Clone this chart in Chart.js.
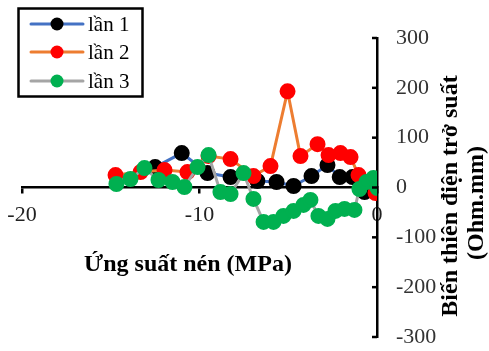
<!DOCTYPE html>
<html>
<head>
<meta charset="utf-8">
<script src="https://cdn.jsdelivr.net/npm/chart.js@4.4.1/dist/chart.umd.min.js"></script>
<style>
  body { margin: 0; background: #fff; }
  #wrap { width: 489px; height: 351px; }
</style>
</head>
<body>
<div id="wrap"><canvas id="myChart" width="489" height="351"></canvas></div>
<script>
// ---- data ----
const seriesNames = ['lần 1', 'lần 2', 'lần 3'];

const x1 = [-12.5, -11.0, -9.55, -8.25, -6.74, -5.66, -4.7, -3.69, -2.79, -2.1, -1.38, -0.7];
const y1 = [41, 69, 29, 21, 13, 11, 3, 23, 45, 21, 21, -9];

const x2 = [-14.73, -13.32, -11.97, -10.68, -9.49, -8.25, -6.96, -6.0, -5.04, -4.31, -3.35, -2.73, -2.06, -1.49, -1.04, -0.08];
const y2 = [25, 31, 35, 31, 63, 57, 23, 43, 193, 63, 87, 65, 69, 61, 25, -11];

const x3 = [-14.68, -13.89, -13.1, -12.31, -11.52, -10.85, -10.11, -9.49, -8.82, -8.25, -7.52, -6.96, -6.39, -5.83, -5.27, -4.7, -4.14, -3.75, -3.3, -2.79, -2.34, -1.83, -1.27, -0.99, -0.59, -0.2, 0.03];
const y3 = [7, 17, 39, 15, 11, 1, 41, 65, -9, -13, 29, -23, -69, -69, -57, -47, -35, -25, -57, -63, -47, -43, -45, -3, 11, 19, -1];

const xTicks = [-20, -10, 0];
const yTicks = [-300, -200, -100, 0, 100, 200, 300];

const xTitle = 'Ứng suất nén (MPa)';
const yTitle = ['Biến thiên điện trở suất', '(Ohm.mm)'];

const lineColors = ['#4472C4', '#ED7D31', '#A5A5A5'];
const dotColors = ['#000000', '#FF0000', '#00B050'];

const pts = (xs, ys) => xs.map((x, i) => ({ x: x, y: ys[i] }));
const allX = [x1, x2, x3];
const allY = [y1, y2, y3];

const FONT = '"Liberation Serif", "Times New Roman", serif';

// titles, inward y ticks and the boxed legend
const extras = {
  id: 'extras',
  afterDraw(chart) {
    const ctx = chart.ctx;
    const ys = chart.scales.y;
    ctx.save();
    ctx.strokeStyle = '#000';
    ctx.lineWidth = 2.5;
    yTicks.forEach(v => {
      const py = ys.getPixelForValue(v);
      ctx.beginPath();
      ctx.moveTo(ys.left - 5, py);
      ctx.lineTo(ys.left, py);
      ctx.stroke();
    });

    ctx.fillStyle = '#000';
    ctx.font = 'bold 24px ' + FONT;
    ctx.textAlign = 'center';
    ctx.textBaseline = 'middle';
    ctx.fillText(xTitle, 188, 265);

    ctx.save();
    ctx.translate(451, 196);
    ctx.rotate(-Math.PI / 2);
    ctx.fillText(yTitle[0], 0, 0);
    ctx.restore();
    ctx.save();
    ctx.translate(477, 203);
    ctx.rotate(-Math.PI / 2);
    ctx.fillText(yTitle[1], 0, 0);
    ctx.restore();

    // legend
    ctx.lineWidth = 2.5;
    ctx.strokeStyle = '#000';
    ctx.strokeRect(18.5, 8.5, 124, 88);
    const rows = [24, 52, 81];
    ctx.font = '21px ' + FONT;
    ctx.textAlign = 'left';
    seriesNames.forEach((name, i) => {
      const ry = rows[i];
      ctx.strokeStyle = lineColors[i];
      ctx.lineWidth = 3;
      ctx.lineCap = 'round';
      ctx.beginPath();
      ctx.moveTo(31, ry);
      ctx.lineTo(83, ry);
      ctx.stroke();
      ctx.fillStyle = dotColors[i];
      ctx.beginPath();
      ctx.arc(57, ry, 6.5, 0, Math.PI * 2);
      ctx.fill();
      ctx.fillStyle = '#000';
      ctx.fillText(name, 88, ry + 1);
    });
    ctx.restore();
  }
};

const ctx = document.getElementById('myChart');

new Chart(ctx, {
  type: 'scatter',
  data: {
    datasets: seriesNames.map((name, i) => ({
      label: name,
      data: pts(allX[i], allY[i]),
      showLine: true,
      borderColor: lineColors[i],
      borderWidth: 3,
      backgroundColor: dotColors[i],
      pointBackgroundColor: dotColors[i],
      pointBorderColor: dotColors[i],
      pointRadius: 6.5,
      order: 3 - i
    }))
  },
  options: {
    responsive: false,
    animation: false,
    layout: { padding: { left: 22, top: 38, bottom: 14, right: 0 } },
    plugins: {
      legend: { display: false },
      tooltip: { enabled: false }
    },
    scales: {
      x: {
        type: 'linear',
        position: { y: 0 },
        min: -20,
        max: 0,
        afterBuildTicks: (s) => { s.ticks = xTicks.map(v => ({ value: v })); },
        afterFit: (s) => { s.height = 0; s.paddingLeft = 0; s.paddingRight = 0; },
        grid: { drawOnChartArea: false, drawTicks: true, tickLength: 5, color: '#000', lineWidth: 2.5 },
        border: { display: true, color: '#000', width: 2.5 },
        ticks: { color: '#222', font: { family: FONT, size: 22 }, padding: 10, maxRotation: 0 }
      },
      y: {
        position: 'right',
        min: -300,
        max: 300,
        afterBuildTicks: (s) => { s.ticks = yTicks.map(v => ({ value: v })); },
        afterFit: (s) => { s.width = 112; s.paddingTop = 0; s.paddingBottom = 0; },
        grid: { display: false, drawTicks: false },
        border: { display: true, color: '#000', width: 2.5 },
        ticks: { color: '#333', font: { family: FONT, size: 22 }, padding: 19 }
      }
    }
  },
  plugins: [extras]
});
</script>
</body>
</html>
